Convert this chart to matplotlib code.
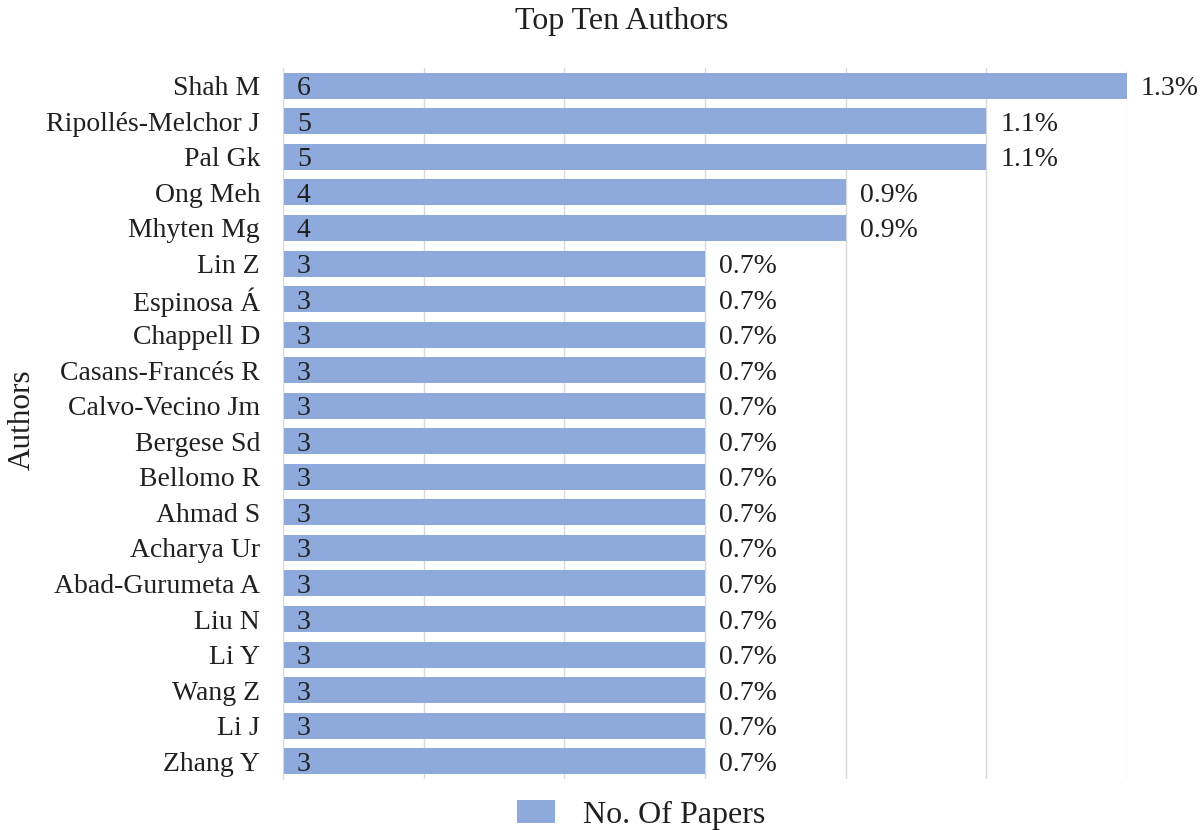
import matplotlib
matplotlib.use("Agg")
import matplotlib.pyplot as plt
from matplotlib.patches import Patch

authors = ["Shah M", "Ripollés-Melchor J", "Pal Gk", "Ong Meh", "Mhyten Mg", "Lin Z",
           "Espinosa Á", "Chappell D", "Casans-Francés R", "Calvo-Vecino Jm", "Bergese Sd",
           "Bellomo R", "Ahmad S", "Acharya Ur", "Abad-Gurumeta A", "Liu N", "Li Y",
           "Wang Z", "Li J", "Zhang Y"]
papers = [6, 5, 5, 4, 4, 3, 3, 3, 3, 3, 3, 3, 3, 3, 3, 3, 3, 3, 3, 3]
percents = ["1.3%", "1.1%", "1.1%", "0.9%", "0.9%"] + ["0.7%"] * 15

plt.rcParams['font.family'] = ['Liberation Serif', 'DejaVu Serif']
txt = "#202020"
bar_color = "#8EA9DB"

fig = plt.figure(figsize=(12.04, 8.3), dpi=100)
ax = fig.add_axes([283/1204, 1-779/830, (1127-283)/1204, (779-68)/830])

y = list(range(len(authors)))
ax.barh(y, papers, height=0.73, color=bar_color, zorder=2)
ax.set_ylim(len(authors)-0.5, -0.5)
ax.set_xlim(0, 6)
ax.set_xticks(range(0, 7))
ax.set_xticklabels([])
ax.tick_params(axis='x', length=0)
ax.tick_params(axis='y', length=0, pad=16.5, labelsize=20, labelcolor=txt)
ax.set_yticks(y)
ax.set_yticklabels(authors)
ax.grid(axis='x', color="#d9d9d9", linewidth=1, zorder=0)
for s in ["top", "right", "bottom"]:
    ax.spines[s].set_visible(False)
ax.spines["left"].set_color("#d9d9d9")
ax.spines["left"].set_zorder(3)

for yi, v, p in zip(y, papers, percents):
    ax.annotate(str(v), (0, yi), xytext=(10, 0), textcoords="offset points",
                ha="left", va="center_baseline", fontsize=20, color=txt, zorder=4)
    ax.annotate(p, (v, yi), xytext=(10, 0), textcoords="offset points",
                ha="left", va="center_baseline", fontsize=20, color=txt)

fig.text(622/1204, 1-22/830, "Top Ten Authors", ha="center", va="center", fontsize=23, color=txt)
fig.text(22/1204, 1-420/830, "Authors", ha="center", va="center", rotation=90, fontsize=22.5, color=txt)

handles = [Patch(facecolor=bar_color, edgecolor='none')]
fig.legend(handles, ["No. Of Papers"], loc="center", bbox_to_anchor=(641/1204, 1-815/830),
           frameon=False, fontsize=23, handlelength=1.2, handleheight=0.72, handletextpad=0.87,
           labelcolor=txt, borderpad=0)

fig.savefig("out.png", dpi=100)
